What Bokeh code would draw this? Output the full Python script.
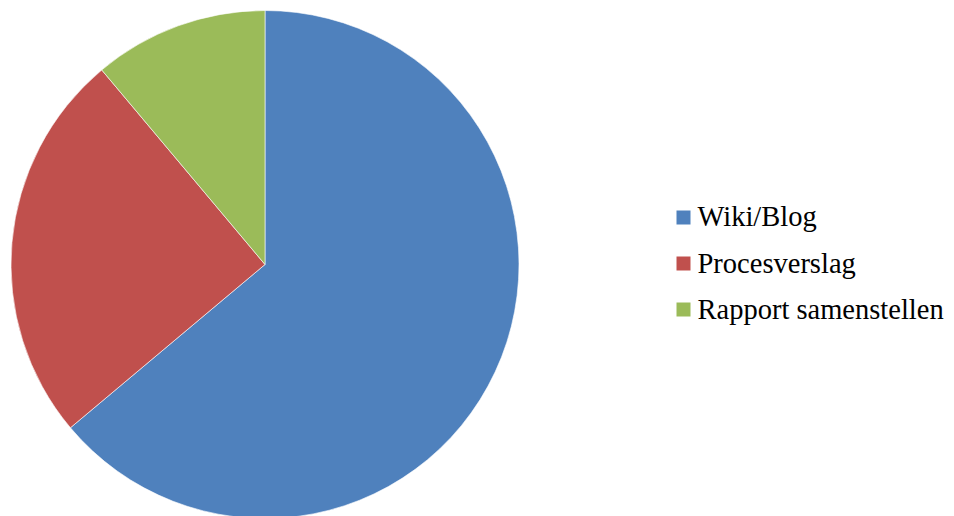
import math
from bokeh.plotting import figure
from bokeh.models import Range1d, ColumnDataSource
from bokeh.core.properties import value
from bokeh.embed import file_html
from bokeh.resources import INLINE

categories = ["Wiki/Blog", "Procesverslag", "Rapport samenstellen"]
values = [23, 9, 4]
colors = ["#4F81BD", "#C0504D", "#9BBB59"]

W, H = 954, 516
p = figure(width=W, height=H, output_backend="svg", toolbar_location=None,
           x_range=Range1d(0, W), y_range=Range1d(0, H), min_border=0)
p.axis.visible = False
p.grid.visible = False
p.outline_line_color = None
p.background_fill_color = "white"
p.border_fill_color = "white"

total = sum(values)
starts, ends = [], []
cum = 0.0
for v in values:
    starts.append(math.pi / 2 - 2 * math.pi * cum / total)
    cum += v
    ends.append(math.pi / 2 - 2 * math.pi * cum / total)

cx, cy, r = 264.5, H - 264, 254
src = ColumnDataSource(dict(cat=categories, val=values, color=colors,
                            start=starts, end=ends))
p.wedge(x=cx, y=cy, radius=r, start_angle="start", end_angle="end",
        direction="clock", fill_color="color", line_color="white",
        line_width=0.6, source=src)

# legend
n = len(categories)
text_y = [H - (216 + 46.5 * i) for i in range(n)]
sq_y = [H - (217 + 46 * i) for i in range(n)]
lsrc = ColumnDataSource(dict(cat=categories, color=colors,
                             ty=text_y, sy=sq_y,
                             tx=[697] * n, sx=[683] * n))
p.rect(x="sx", y="sy", width=14, height=14, fill_color="color",
       line_color=None, source=lsrc)
p.text(x="tx", y="ty", text="cat", text_font=value("Liberation Serif"),
       text_font_size="28.5px", text_baseline="middle", text_color="black",
       source=lsrc)

open("out.html", "w").write(file_html(p, INLINE))
